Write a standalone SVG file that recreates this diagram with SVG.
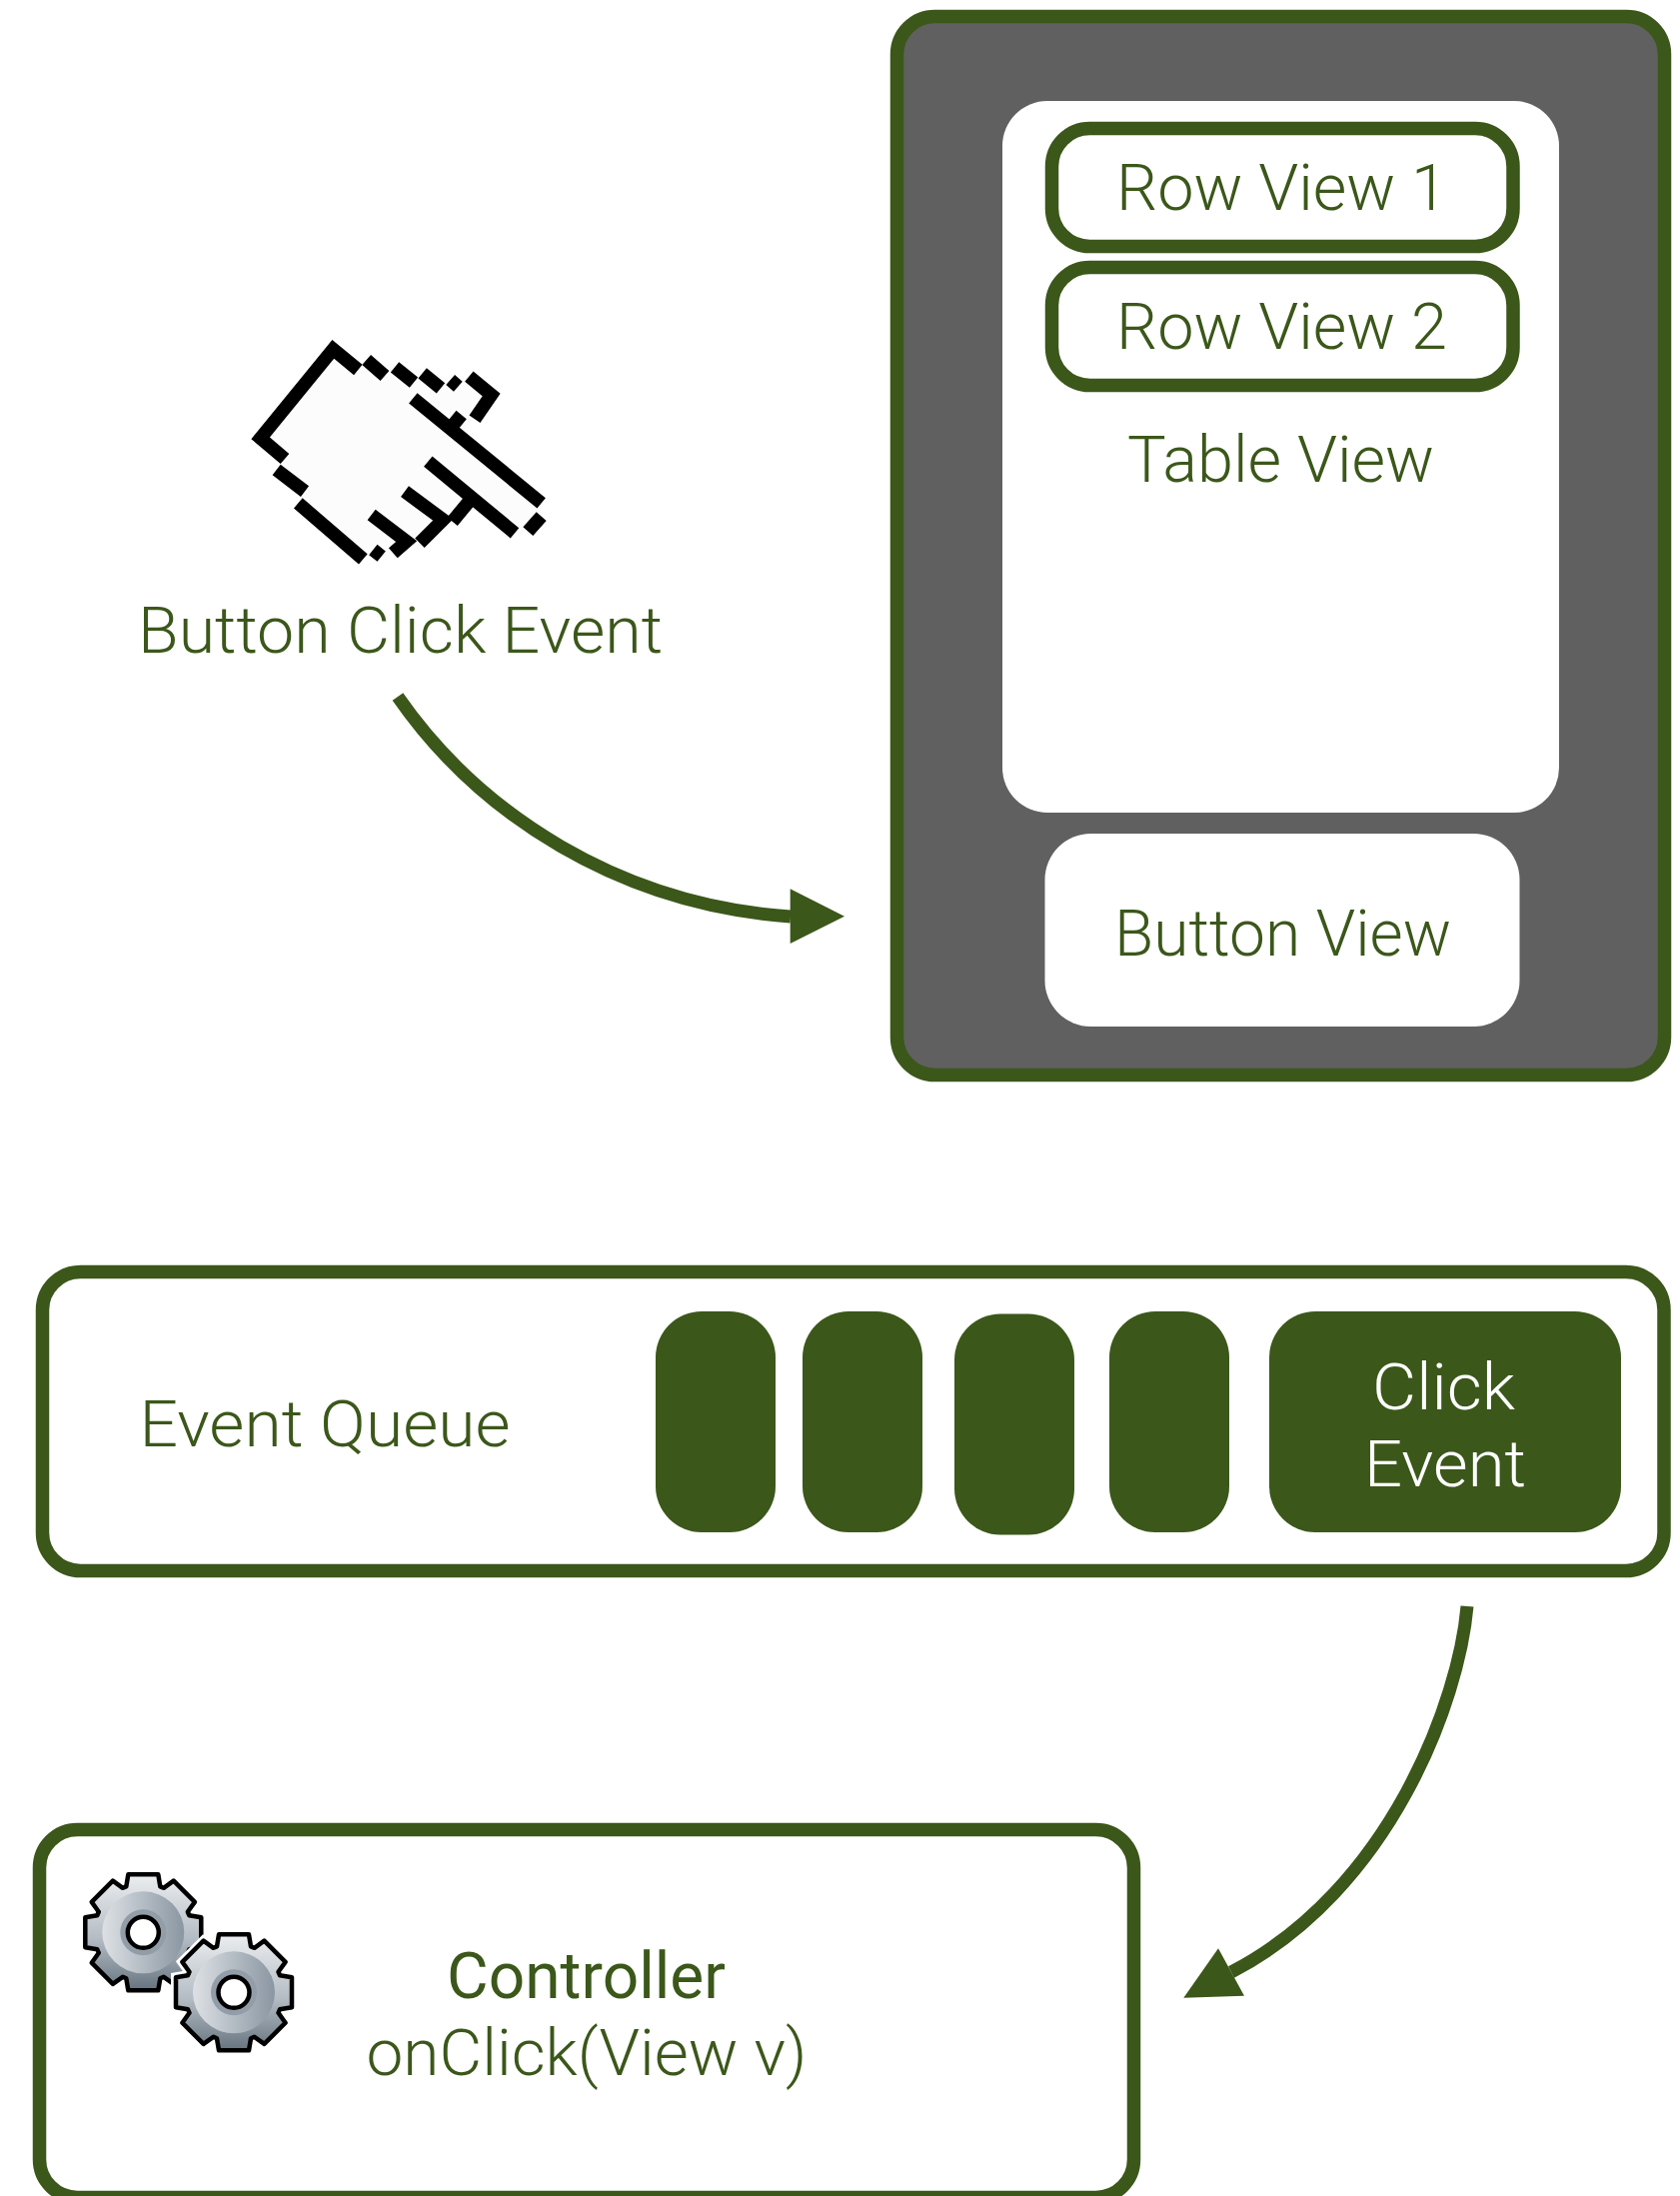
<svg xmlns="http://www.w3.org/2000/svg" xmlns:xlink="http://www.w3.org/1999/xlink" width="1681" height="2197" viewBox="0 0 1681 2197">
<style>
text{font-family:"Roboto","Liberation Sans",sans-serif;font-weight:300;font-size:65px;fill:#3b571a}
.w{fill:#fff}
.ctl{font-weight:400}
.box{fill:#fff;stroke:#3b571a;stroke-width:13.5}
.pill{fill:#3b571a}
.white{fill:#fff}
.line{fill:none;stroke:#3b571a;stroke-width:13}
.head{fill:#3b571a}
.px{fill:none;stroke:#000;stroke-width:40;stroke-linejoin:miter}
.gs{stroke:#000;stroke-width:4.5;stroke-linejoin:round}
</style>
<defs>
<linearGradient id="gBody" x1="0" y1="0" x2="0" y2="1"><stop offset="0" stop-color="#eceef0"/><stop offset=".55" stop-color="#b4bcc4"/><stop offset="1" stop-color="#66747f"/></linearGradient>
<linearGradient id="gDisc" x1="0" y1="0" x2="1" y2="0"><stop offset="0" stop-color="#dde1e5"/><stop offset="1" stop-color="#8a96a2"/></linearGradient>
<path id="gearShape" d="M-17,-46L-15,-58L15,-58L17,-46A50,50 0 0 1 20.5,-44.5L30.4,-51.6L51.6,-30.4L44.5,-20.5A50,50 0 0 1 46,-17L58,-15L58,15L46,17A50,50 0 0 1 44.5,20.5L51.6,30.4L30.4,51.6L20.5,44.5A50,50 0 0 1 17,46L15,58L-15,58L-17,46A50,50 0 0 1 -20.5,44.5L-30.4,51.6L-51.6,30.4L-44.5,20.5A50,50 0 0 1 -46,17L-58,15L-58,-15L-46,-17A50,50 0 0 1 -44.5,-20.5L-51.6,-30.4L-30.4,-51.6L-20.5,-44.5A50,50 0 0 1 -17,-46Z"/>
<g id="gear">
<use xlink:href="#gearShape" href="#gearShape" fill="url(#gBody)" class="gs"/>
<circle r="41" fill="url(#gDisc)"/>
<circle r="23" fill="#929da8"/>
<circle r="15.5" fill="#fff" stroke="#000" stroke-width="4.5"/>
</g>
</defs>
<rect width="1681" height="2197" fill="#fff"/>

<g id="phone">
<rect x="897.5" y="16.5" width="768" height="1059" rx="38" fill="#606060" stroke="#3b571a" stroke-width="13.5"/>
</g>
<g id="table-view">
<rect class="white" x="1003" y="101" width="557" height="712" rx="45"/>
<text x="1128" y="482" textLength="307" lengthAdjust="spacingAndGlyphs">Table View</text>
</g>
<g id="row-view-1">
<rect class="box" x="1052.5" y="128.5" width="461.5" height="118" rx="38"/>
<text x="1117" y="210" textLength="331" lengthAdjust="spacingAndGlyphs">Row View 1</text>
</g>
<g id="row-view-2">
<rect class="box" x="1052.5" y="267.5" width="461.5" height="118" rx="38"/>
<text x="1117" y="349" textLength="331" lengthAdjust="spacingAndGlyphs">Row View 2</text>
</g>
<g id="button-view">
<rect class="white" x="1045.5" y="834" width="475" height="193" rx="46"/>
<text x="1115" y="956" textLength="337" lengthAdjust="spacingAndGlyphs">Button View</text>
</g>

<g id="button-click-event">
<g transform="translate(230 320) scale(.33333)">
<polygon fill="#fcfcfc" points="310,95 90,355 160,420 145,450 225,520 205,550 400,715 440,695 490,700 570,670 660,600 720,550 855,645 895,635 935,570 930,545 700,335 735,295 785,225 722,172 665,180 590,150 500,135 415,115 385,150"/>
<path class="px" d="M385,150L310,88L92,355L165,417"/>
<path class="px" d="M410,120L465,168M495,142L552,188M578,160L633,205M662,180L685,200M718,170L785,225L735,298"/>
<path class="px" d="M550,235L935,550M695,285L668,318M595,425L855,640M722,540L668,605M935,590L895,635"/>
<path class="px" d="M140,450L225,515M205,550L400,718M430,690L455,710"/>
<path class="px" d="M525,515L640,600L570,670M425,585L530,665L490,700"/>
</g>
<text x="138" y="653" textLength="525" lengthAdjust="spacingAndGlyphs">Button Click Event</text>
</g>

<g id="event-queue">
<rect class="box" x="42.5" y="1272.5" width="1622.5" height="299" rx="38"/>
<text x="139.5" y="1446.5" textLength="371" lengthAdjust="spacingAndGlyphs">Event Queue</text>
<rect class="pill" x="656" y="1312" width="120" height="221" rx="46"/>
<rect class="pill" x="803" y="1312" width="120" height="221" rx="46"/>
<rect class="pill" x="955" y="1314.5" width="120" height="221" rx="46"/>
<rect class="pill" x="1110" y="1312" width="120" height="221" rx="46"/>
</g>
<g id="click-event">
<rect class="pill" x="1270" y="1312" width="352" height="221" rx="46"/>
<text class="w" x="1373" y="1410" textLength="143" lengthAdjust="spacingAndGlyphs">Click</text>
<text class="w" x="1365" y="1487" textLength="162" lengthAdjust="spacingAndGlyphs">Event</text>
</g>

<g id="controller">
<rect class="box" x="39.5" y="1830.5" width="1095" height="368" rx="38"/>
<use xlink:href="#gear" href="#gear" x="143.3" y="1933.3"/>
<use xlink:href="#gearShape" href="#gearShape" x="234" y="1993.3" fill="#fff" stroke="#fff" stroke-width="10"/>
<use xlink:href="#gear" href="#gear" x="234" y="1993.3"/>
<text class="ctl" x="447" y="1999" textLength="279" lengthAdjust="spacingAndGlyphs">Controller</text>
<text x="366.5" y="2076" textLength="441" lengthAdjust="spacingAndGlyphs">onClick(View v)</text>
</g>

<g id="connectors">
<path class="line" d="M398,697C480,815 620,905 791,917"/>
<polygon class="head" points="790.7,889.3 845,916.7 790.7,944"/>
<path class="line" d="M1468,1607C1460,1700 1392,1890 1232,1973"/>
<polygon class="head" points="1219,1949.3 1184.3,1998.7 1245,1996.7"/>
</g>
</svg>
